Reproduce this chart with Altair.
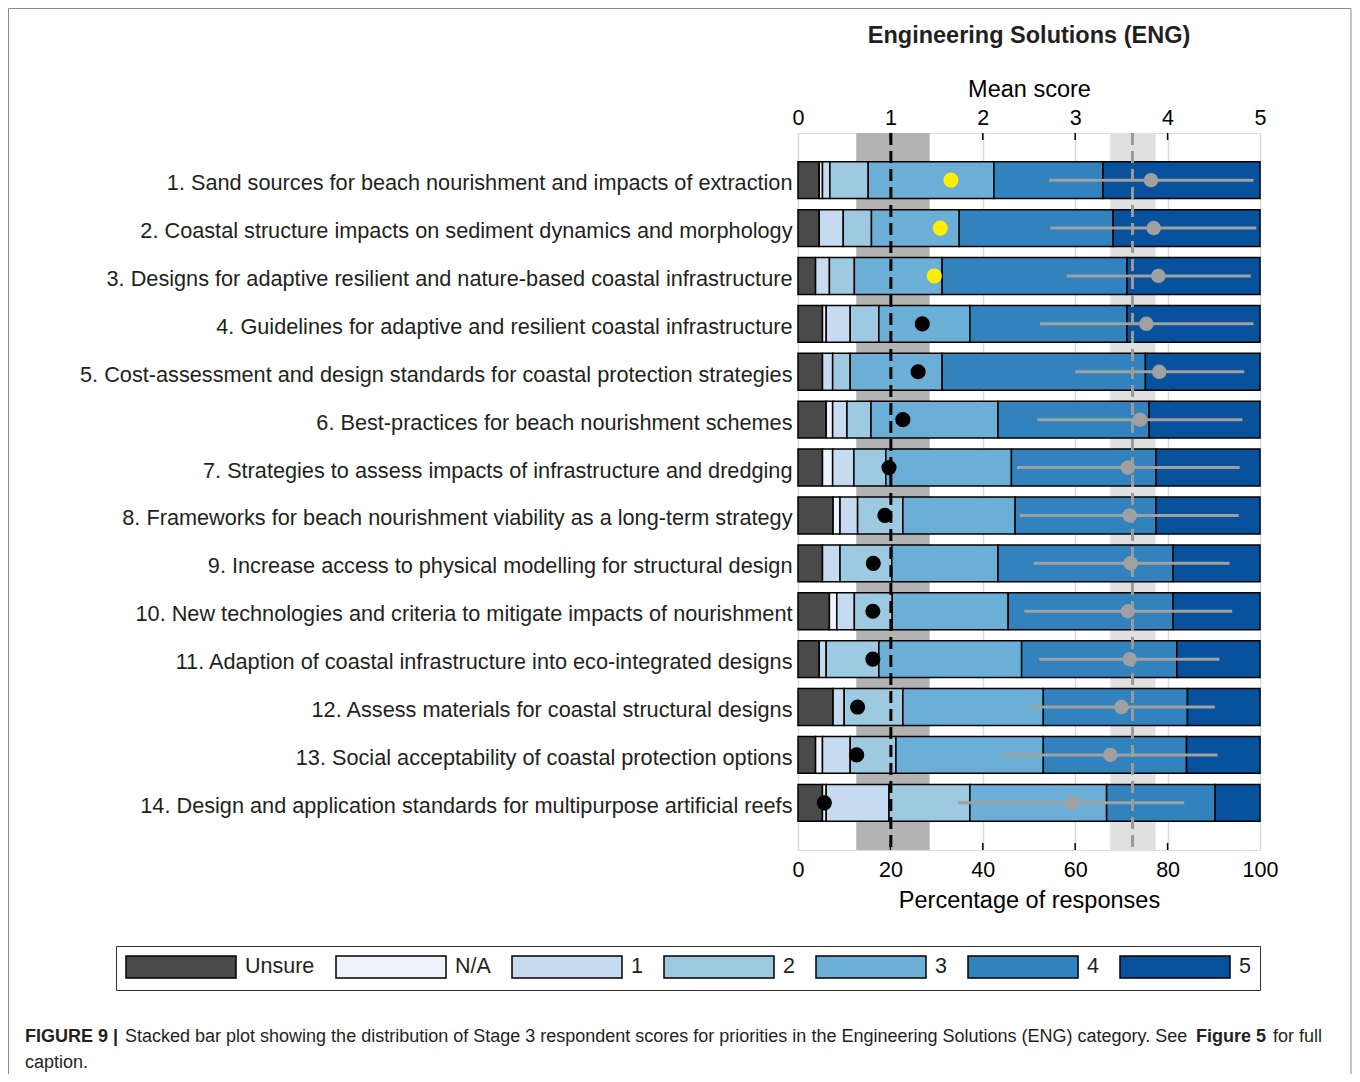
import altair as alt
import pandas as pd

W, H = 462, 717
FONT = "Liberation Sans"

labels = [
    "1. Sand sources for beach nourishment and impacts of extraction",
    "2. Coastal structure impacts on sediment dynamics and morphology",
    "3. Designs for adaptive resilient and nature-based coastal infrastructure",
    "4. Guidelines for adaptive and resilient coastal infrastructure",
    "5. Cost-assessment and design standards for coastal protection strategies",
    "6. Best-practices for beach nourishment schemes",
    "7. Strategies to assess impacts of infrastructure and dredging",
    "8. Frameworks for beach nourishment viability as a long-term strategy",
    "9. Increase access to physical modelling for structural design",
    "10. New technologies and criteria to mitigate impacts of nourishment",
    "11. Adaption of coastal infrastructure into eco-integrated designs",
    "12. Assess materials for coastal structural designs",
    "13. Social acceptability of coastal protection options",
    "14. Design and application standards for multipurpose artificial reefs",
]

categories = ["Unsure", "N/A", "1", "2", "3", "4", "5"]
cat_colors = ["#4a4a4a", "#eef2fc", "#c6dbef", "#9ecae1", "#6baed6", "#3182bd", "#08519c"]

unsure = [4.6, 4.6, 3.8, 5.3, 5.3, 6.1, 5.3, 7.6, 5.3, 6.8, 4.6, 7.6, 3.8, 5.3]
na     = [0.7, 0.0, 0.0, 0.8, 0.0, 1.4, 2.2, 1.5, 0.0, 1.6, 0.0, 0.0, 1.5, 0.8]
s1     = [1.6, 5.2, 3.0, 5.2, 2.2, 3.1, 4.6, 3.8, 3.8, 3.8, 1.5, 2.4, 6.0, 13.6]
s2     = [8.3, 6.1, 5.4, 6.2, 3.8, 5.2, 6.9, 9.8, 11.2, 8.2, 11.4, 12.7, 9.9, 17.5]
s3     = [27.2, 19.0, 19.0, 19.7, 19.9, 27.5, 27.2, 24.3, 23.0, 25.1, 30.9, 30.4, 31.9, 29.6]
s4     = [23.6, 33.3, 40.0, 34.0, 44.0, 32.7, 31.3, 30.5, 37.9, 35.7, 33.6, 31.2, 31.0, 23.5]
s5     = [34.0, 31.8, 28.8, 28.8, 24.8, 24.0, 22.5, 22.5, 18.8, 18.8, 18.0, 15.7, 15.9, 9.7]

# mean score (top axis) with spread
mean_score = [3.82, 3.85, 3.90, 3.77, 3.91, 3.70, 3.57, 3.59, 3.60, 3.57, 3.59, 3.50, 3.38, 2.97]
score_lo   = [2.72, 2.73, 2.91, 2.62, 3.00, 2.59, 2.37, 2.40, 2.55, 2.45, 2.61, 2.49, 2.22, 1.73]
score_hi   = [4.93, 4.96, 4.90, 4.93, 4.83, 4.81, 4.78, 4.77, 4.67, 4.70, 4.56, 4.51, 4.54, 4.18]

# dot percentages (bottom axis) and their colours
dot_pct   = [33.1, 30.8, 29.5, 26.9, 26.0, 22.7, 19.7, 18.8, 16.3, 16.2, 16.2, 12.9, 12.7, 5.7]
dot_color = ["#ffee00"] * 3 + ["#000000"] * 11

# reference bands / lines
pct_band = [12.6, 28.5]
pct_line = [20.1]
score_band = [3.38, 3.87]
score_line = [3.62]
pct_ticks = [20, 40, 60, 80]
score_ticks = [1, 2, 3, 4]

title_text = "Engineering Solutions (ENG)"
caption_bold1 = "FIGURE 9 |"
caption_main = "Stacked bar plot showing the distribution of Stage 3 respondent scores for priorities in the Engineering Solutions (ENG) category. See"
caption_bold2 = "Figure 5"
caption_end = "for full"
caption_line2 = "caption."

# ---------- data tables ----------
series = [unsure, na, s1, s2, s3, s4, s5]
rows = []
for ci, (cat, vals) in enumerate(zip(categories, series)):
    for li, lab in enumerate(labels):
        if vals[li] > 0:
            rows.append({"item": lab, "cat": cat, "ord": ci, "width": vals[li]})
bars_df = pd.DataFrame(rows)

pts_df = pd.DataFrame({"item": labels, "mean": mean_score, "lo": score_lo, "hi": score_hi,
                       "dot": dot_pct, "dcol": dot_color})

yenc = alt.Y("item:N", sort=labels,
             scale=alt.Scale(paddingInner=0.23, paddingOuter=0.6),
             axis=alt.Axis(title=None, domain=False, ticks=False, labelPadding=6,
                           labelFontSize=21.7, labelLimit=0, labelColor="#231f20",
                           labelOffset=3))

pct_scale = alt.Scale(domain=[0, 100], nice=False, zero=True)
score_scale = alt.Scale(domain=[0, 5], nice=False, zero=True)

dark_band = alt.Chart(pd.DataFrame({"a": [pct_band[0]], "b": [pct_band[1]]})).mark_rect(
    color="#b3b3b3").encode(
    x=alt.X("a:Q", scale=pct_scale, axis=None), x2="b:Q",
    y=alt.value(0), y2=alt.value(H))

light_band = alt.Chart(pd.DataFrame({"a": [score_band[0]], "b": [score_band[1]]})).mark_rect(
    color="#e0e0e0").encode(
    x=alt.X("a:Q", scale=score_scale, axis=None), x2="b:Q",
    y=alt.value(0), y2=alt.value(H))

bot_ticks = alt.Chart(pd.DataFrame({"t": pct_ticks})).mark_rule(color="black", strokeWidth=1.5).encode(
    x=alt.X("t:Q", scale=pct_scale, axis=None), y=alt.value(H - 7), y2=alt.value(H))

top_ticks = alt.Chart(pd.DataFrame({"t": score_ticks})).mark_rule(color="black", strokeWidth=1.5).encode(
    x=alt.X("t:Q", scale=score_scale, axis=None), y=alt.value(0), y2=alt.value(7))

bars = alt.Chart(bars_df).mark_bar(stroke="black", strokeWidth=1.5).encode(
    x=alt.X("width:Q", stack="zero", scale=pct_scale,
            axis=alt.Axis(orient="bottom", values=[0, 20, 40, 60, 80, 100], grid=True,
                          gridColor="#dadada", gridWidth=1.5, ticks=False, domain=False,
                          title="Percentage of responses", labelPadding=9, titlePadding=8,
                          labelFontSize=21.5, titleFontSize=23.5, titleFontWeight="normal",
                          labelFlush=False, format="d")),
    y=yenc,
    color=alt.Color("cat:N", scale=alt.Scale(domain=categories, range=cat_colors),
                    legend=alt.Legend(orient="none", legendX=-682, legendY=813,
                                      direction="horizontal", columns=7, title=None,
                                      symbolType="M-1,-1H9V1H-1Z", symbolSize=484,
                                      symbolStrokeColor="black", symbolStrokeWidth=1.5,
                                      symbolOpacity=1, labelFontSize=21.5, labelOffset=96,
                                      columnPadding=18, padding=9, strokeColor="#333333",
                                      labelColor="#231f20", labelFont=FONT)),
    order=alt.Order("ord:Q", sort="ascending"),
)

black_dash = alt.Chart(pd.DataFrame({"v": pct_line})).mark_rule(
    color="black", strokeWidth=3, strokeDash=[12, 6]).encode(
    x=alt.X("v:Q", scale=pct_scale, axis=None))

grey_dash = alt.Chart(pd.DataFrame({"v": score_line})).mark_rule(
    color="#9a9a9a", strokeWidth=3, strokeDash=[12, 6]).encode(
    x=alt.X("v:Q", scale=score_scale, axis=None))

err = alt.Chart(pts_df).mark_rule(color="#a0a0a0", strokeWidth=3).encode(
    x=alt.X("lo:Q", scale=score_scale, axis=None), x2="hi:Q", y=alt.Y("item:N", sort=labels))

means = alt.Chart(pts_df).mark_circle(size=210, opacity=1, color="#a0a0a0").encode(
    x=alt.X("mean:Q", scale=score_scale,
            axis=alt.Axis(orient="top", values=[0, 1, 2, 3, 4, 5], title="Mean score",
                          grid=False, ticks=False, domain=False, labelPadding=4,
                          titlePadding=6, labelFontSize=21.5, titleFontSize=23.5,
                          titleFontWeight="normal", labelFlush=False, format="d")),
    y=alt.Y("item:N", sort=labels))

dots = alt.Chart(pts_df).mark_circle(size=230, opacity=1).encode(
    x=alt.X("dot:Q", scale=pct_scale, axis=None),
    y=alt.Y("item:N", sort=labels),
    color=alt.Color("dcol:N", scale=None))

def txt(s, x, y, size, weight="normal", align="left"):
    return alt.Chart(pd.DataFrame({"t": [s]})).mark_text(
        font=FONT, fontSize=size, fontWeight=weight, align=align, baseline="middle",
        color="#231f20").encode(text="t:N", x=alt.value(x), y=alt.value(y))

title = txt(title_text, W / 2, 36 - 133, 23.5, "bold", "center")
cap1 = txt(caption_bold1, 25 - 798, 1037 - 133, 18, "bold")
cap2 = txt(caption_main, 125 - 798, 1037 - 133, 18)
cap3 = txt(caption_bold2, 1196 - 798, 1037 - 133, 18, "bold")
cap4 = txt(caption_end, 1273 - 798, 1037 - 133, 18)
cap5 = txt(caption_line2, 25 - 798, 1063 - 133, 18)

frame = alt.Chart(pd.DataFrame({"t": [0]})).mark_rect(
    fillOpacity=0, stroke="#8a8a8a", strokeWidth=1).encode(
    x=alt.value(-790 + 0.5), x2=alt.value(W + 92 - 1), y=alt.value(-125 + 0.5), y2=alt.value(H + 260))

chart = alt.layer(
    dark_band, light_band, bot_ticks, top_ticks, bars, black_dash, grey_dash,
    err, means, dots, title, cap1, cap2, cap3, cap4, cap5, frame
).resolve_scale(x="independent", color="independent").properties(
    width=W, height=H,
    padding={"left": 790, "top": 125, "right": 92, "bottom": 224},
    autosize=alt.AutoSizeParams(type="none"),
).configure_view(stroke="black", strokeWidth=1.5).configure_axis(
    labelFont=FONT, titleFont=FONT, labelColor="#231f20", titleColor="#231f20",
    titleFontWeight="normal"
).configure(background="white")

chart.save("out.html", embed_options={"renderer": "svg", "actions": False})
